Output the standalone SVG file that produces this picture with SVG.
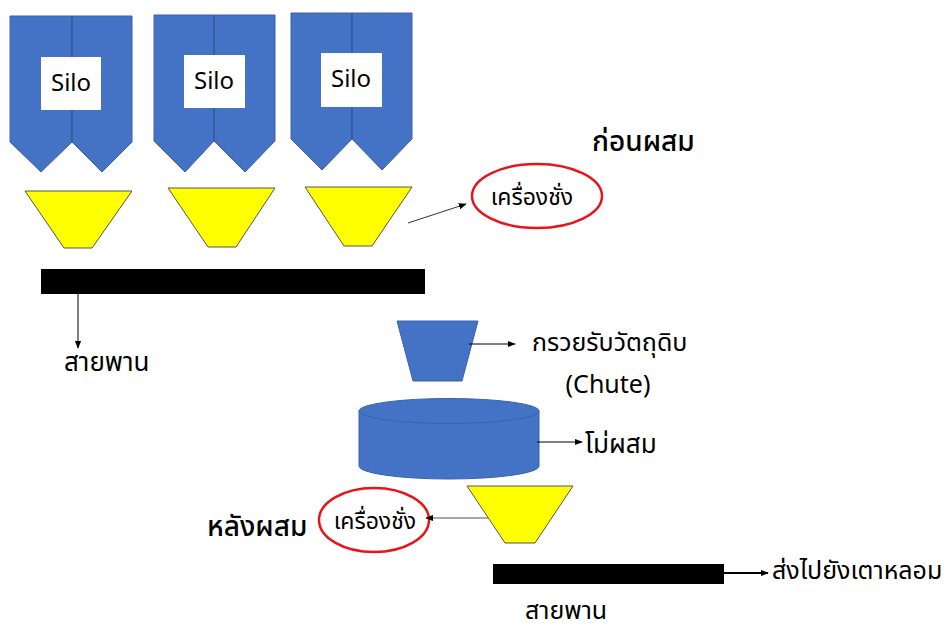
<svg xmlns="http://www.w3.org/2000/svg" width="948" height="630" viewBox="0 0 948 630">
<defs>
<style>
.blue{fill:#4472C4;stroke:#3A63AE;stroke-width:1}
.yel{fill:#FFFF00;stroke:#555;stroke-width:1}
.div{stroke:#2F528F;stroke-width:1}
.box{fill:#fff}
.belt{fill:#000}
.t{font-family:"Noto Sans Thai","Noto Sans","DejaVu Sans",Tahoma,sans-serif;fill:#000}
.silo{font-family:"Noto Sans","Open Sans",sans-serif;font-size:24px;text-anchor:middle;fill:#000}
.ring{fill:none;stroke:#E8141A;stroke-width:2.5}
.c{stroke:#000;stroke-width:1;fill:none}
</style>
<marker id="ah" viewBox="0 0 10 10" refX="9" refY="5" markerWidth="8" markerHeight="8" markerUnits="userSpaceOnUse" orient="auto"><path d="M0,1 L10,5 L0,9 z" fill="#000"/></marker>
</defs>

<g id="silo1">
<path class="blue" d="M10,16 H72 V142 L41,172 L10,142 Z"/>
<path class="blue" d="M72,16 H132 V142 L102,172 L72,142 Z"/>
<line class="div" x1="72" y1="16" x2="72" y2="142"/>
<rect class="box" x="41" y="57" width="60" height="53"/>
<text class="silo" x="71" y="91">Silo</text>
</g>
<g id="silo2">
<path class="blue" d="M154,15 H214 V141 L185,172 L154,141 Z"/>
<path class="blue" d="M214,15 H275 V141 L245,172 L214,141 Z"/>
<line class="div" x1="214" y1="15" x2="214" y2="141"/>
<rect class="box" x="184" y="55" width="61" height="53"/>
<text class="silo" x="214" y="89">Silo</text>
</g>
<g id="silo3">
<path class="blue" d="M291,13 H352 V139 L322,170 L291,139 Z"/>
<path class="blue" d="M352,13 H412 V139 L382,170 L352,139 Z"/>
<line class="div" x1="352" y1="13" x2="352" y2="139"/>
<rect class="box" x="321" y="53" width="61" height="54"/>
<text class="silo" x="351" y="87">Silo</text>
</g>

<g id="hopper1"><path class="yel" d="M25,191 H132 L92,248 H64 Z"/></g>
<g id="hopper2"><path class="yel" d="M168,188 H275 L236,247 H208 Z"/></g>
<g id="hopper3"><path class="yel" d="M305,187 H412 L372,246 H344 Z"/></g>

<g id="belt1"><rect class="belt" x="41" y="269" width="384" height="25"/></g>
<g id="chute"><path class="blue" d="M397,321 H478 L462,381 H413 Z"/></g>
<g id="mixer">
<path class="blue" d="M359,411 V466 A90,13 0 0 0 539,466 V411 Z"/>
<ellipse class="blue" cx="449" cy="411" rx="90" ry="12.5"/>
</g>
<g id="hopper4"><path class="yel" d="M467,486 H573 L535,543 H505 Z"/></g>
<g id="belt2"><rect class="belt" x="493" y="564" width="231" height="20"/></g>

<g id="scale1">
<ellipse class="ring" cx="537" cy="196" rx="65" ry="32"/>
<text class="t" x="532" y="205" font-size="23" text-anchor="middle">เครื่องชั่ง</text>
</g>
<g id="scale2">
<ellipse class="ring" cx="374" cy="520" rx="55" ry="32"/>
<text class="t" x="375" y="529" font-size="23" text-anchor="middle">เครื่องชั่ง</text>
</g>

<g id="labels">
<text class="t" x="592" y="151" font-size="28" font-weight="500">ก่อนผสม</text>
<text class="t" x="207" y="536" font-size="28" font-weight="500">หลังผสม</text>
<text class="t" x="64" y="371" font-size="26">สายพาน</text>
<text class="t" x="532" y="351" font-size="25">กรวยรับวัตถุดิบ</text>
<text class="t" x="608" y="393" font-size="25" text-anchor="middle">(Chute)</text>
<text class="t" x="585" y="453" font-size="26">โม่ผสม</text>
<text class="t" x="772" y="579" font-size="25">ส่งไปยังเตาหลอม</text>
<text class="t" x="525" y="619" font-size="25">สายพาน</text>
</g>

<g id="connectors">
<line class="c" x1="408" y1="223" x2="466" y2="204" marker-end="url(#ah)" style="stroke:#333"/>
<line class="c" x1="78" y1="294" x2="78" y2="348" marker-end="url(#ah)"/>
<line class="c" x1="469" y1="344" x2="515" y2="344" marker-end="url(#ah)"/>
<line class="c" x1="537" y1="442" x2="582" y2="442" marker-end="url(#ah)"/>
<line class="c" x1="488" y1="518" x2="426" y2="518" marker-end="url(#ah)" style="stroke:#555"/>
<line class="c" x1="724" y1="573" x2="768" y2="573" marker-end="url(#ah)" style="stroke-width:2"/>
</g>
</svg>
